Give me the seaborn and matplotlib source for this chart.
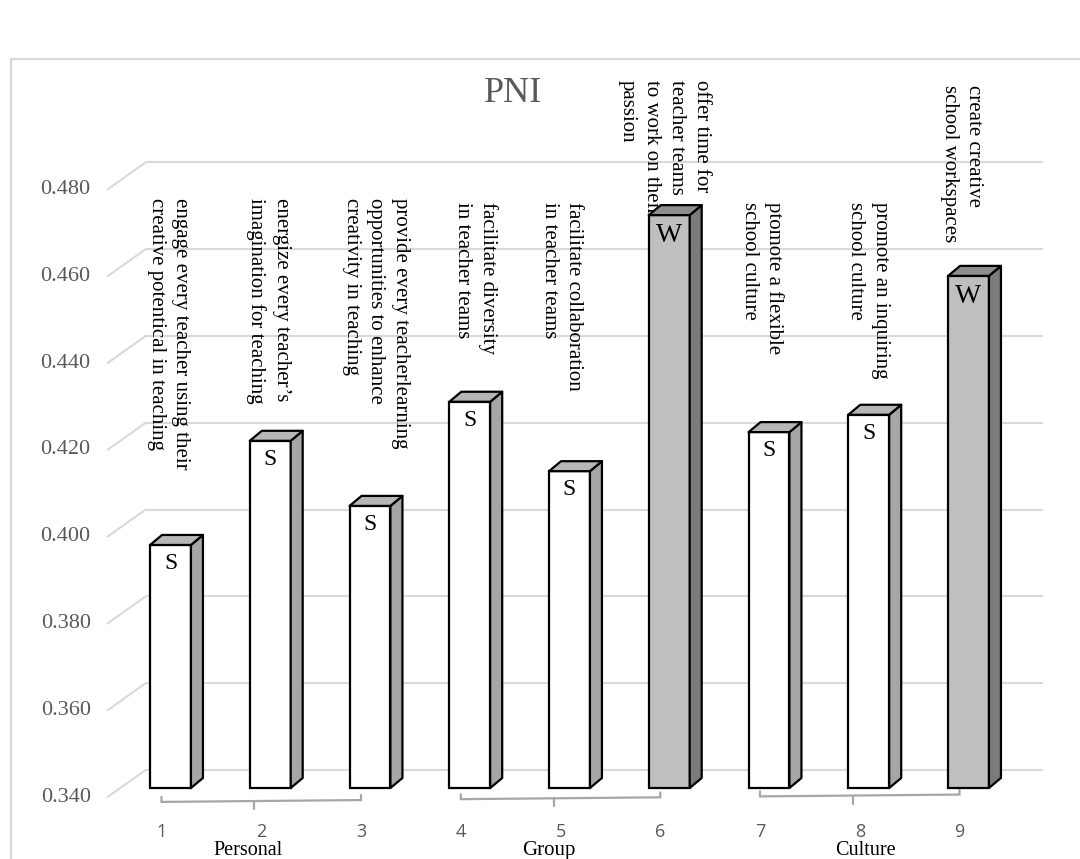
import matplotlib
matplotlib.use("Agg")
import matplotlib.pyplot as plt
from matplotlib.patches import Polygon
import pandas as pd
import seaborn as sns

# ---------------------------------------------------------------- data
items = ["1", "2", "3", "4", "5", "6", "7", "8", "9"]
pni = [0.396, 0.420, 0.405, 0.429, 0.413, 0.472, 0.422, 0.426, 0.458]
levels = ["S", "S", "S", "S", "S", "W", "S", "S", "W"]
descriptions = [
    "engage every teacher using their\ncreative potentical in teaching",
    "energize every teacher\u2019s\nimagination for teaching",
    "provide every teacherlearning\nopportunities to enhance\ncreativity in teaching",
    "facilitate diversity\nin teacher teams",
    "facilitate collaboration\nin teacher teams",
    "offer time for\nteacher teams\nto work on their\npassion",
    "ptomote a flexible\nschool culture",
    "promote an inquiring\nschool culture",
    "create creative\nschool workspaces",
]
groups = ["Personal", "Group", "Culture"]
group_members = [[0, 1, 2], [3, 4, 5], [6, 7, 8]]
y_ticks = [0.340, 0.360, 0.380, 0.400, 0.420, 0.440, 0.460, 0.480]
y_tick_labels = ["0.340", "0.360", "0.380", "0.400", "0.420", "0.440", "0.460", "0.480"]
title = "PNI"

# ---------------------------------------------------------------- layout
W_PX, H_PX = 1080, 859
CAT0_PX = 170.5          # first category centre on the bar front plane
PX_PER_CAT = 99.75
FLOOR_PX = 788.0         # floor value on the bar front plane (from top)
PX_PER_UNIT = 4340.0
FLOOR = y_ticks[0]

BACK = (25, -18)         # bar plane -> back wall (px, +down)
FRONT = (-13, 9)         # bar plane -> front edge of the floor
BAR_DEPTH = (12, -10)    # depth of a column

# description columns: (x nudge px, top px)
desc_nudge = [-2, -2, 6, 6, -8, -5, -7, -1, -7]
desc_top = [198, 198, 198, 202, 202, 80, 202, 202, 85]
# group label nudges relative to middle category (px, baseline px)
group_label_pos = [(-22, 855), (-21, 855), (-3, 855)]
group_label_size = [14.5, 15, 14.5]

FACE = {"S": "#ffffff", "W": "#bfbfbf"}
SIDE = {"S": "#a6a6a6", "W": "#7b7b7b"}
TOP = {"S": "#b6b6b6", "W": "#8e8e8e"}
GRID = "#d9d9d9"
TICK = "#595959"


def ddx(px):
    return px / PX_PER_CAT


def ddy(px_down):
    return -px_down / PX_PER_UNIT


def x_of_px(px):
    return (px - CAT0_PX) / PX_PER_CAT


def v_of_py(py):
    return FLOOR + (FLOOR_PX - py) / PX_PER_UNIT


sns.set_style("white")
plt.rcParams["font.family"] = ["Liberation Serif", "DejaVu Sans"]

fig = plt.figure(figsize=(W_PX / 100, H_PX / 100), dpi=100)
ax = fig.add_axes([0, 0, 1, 1])

df = pd.DataFrame({"item": items, "pni": pni, "level": levels})
sns.barplot(data=df, x="item", y="pni", hue="level", palette=FACE,
            order=items, hue_order=["S", "W"], dodge=False, width=0.41,
            edgecolor="black", linewidth=1.6, errorbar=None, legend=False,
            ax=ax, zorder=3)

ax.set_xlim(x_of_px(0), x_of_px(W_PX))
ax.set_ylim(v_of_py(H_PX), v_of_py(0))
ax.axis("off")

# columns: lift to the floor and add the side / top faces
bdx, bdy = ddx(BAR_DEPTH[0]), ddy(BAR_DEPTH[1])
for p in list(ax.patches):
    h = p.get_height()
    if h != h or h == 0:
        continue
    i = int(round(p.get_x() + p.get_width() / 2))
    lev = levels[i]
    p.set_y(FLOOR)
    p.set_height(h - FLOOR)
    x0, x1 = p.get_x(), p.get_x() + p.get_width()
    side = Polygon([(x1, FLOOR), (x1, h), (x1 + bdx, h + bdy), (x1 + bdx, FLOOR + bdy)],
                   closed=True, facecolor=SIDE[lev], edgecolor="black",
                   linewidth=1.6, zorder=3, joinstyle="round")
    top = Polygon([(x0, h), (x1, h), (x1 + bdx, h + bdy), (x0 + bdx, h + bdy)],
                  closed=True, facecolor=TOP[lev], edgecolor="black",
                  linewidth=1.6, zorder=3, joinstyle="round")
    ax.add_patch(side)
    ax.add_patch(top)
    ax.text(i, h + ddy(8), lev, ha="center", va="top",
            fontsize=17 if lev == "S" else 20, color="black", zorder=4)

# back wall and side wall gridlines, y tick labels
left_edge, right_edge = -0.5, len(items) - 0.5
for v, lab in zip(y_ticks, y_tick_labels):
    vb = v + ddy(BACK[1])
    vf = v + ddy(FRONT[1])
    ax.plot([left_edge + ddx(BACK[0]), right_edge + ddx(BACK[0])], [vb, vb],
            color=GRID, lw=1.5, zorder=0.5, solid_capstyle="butt")
    ax.plot([left_edge + ddx(FRONT[0]), left_edge + ddx(BACK[0])], [vf, vb],
            color=GRID, lw=1.5, zorder=0.5)
    ax.text(left_edge + ddx(FRONT[0] - 17), vf, lab, ha="right", va="center",
            fontsize=16, color=TICK)

# category numbers
for i, it in enumerate(items):
    ax.text(i + ddx(-9), FLOOR + ddy(44), it, ha="center", va="center",
            fontsize=13, color=TICK, family=["Open Sans", "DejaVu Sans"])


def bracket_v(x):
    px = CAT0_PX + PX_PER_CAT * x
    py = 801 - 0.0092 * (px - 260)
    return v_of_py(py)


# group brackets and names
for g, members, (nx, nb), fs in zip(groups, group_members, group_label_pos, group_label_size):
    a, c = members[0], members[-1]
    mid = members[len(members) // 2]
    xl, xr = a + ddx(-9), c + ddx(-9)
    xm = mid + ddx(-16)
    yl, yr, ym = bracket_v(xl), bracket_v(xr), bracket_v(xm)
    ax.plot([xl, xl, xr, xr], [yl + ddy(-5), yl, yr, yr + ddy(-5)],
            color="#a6a6a6", lw=1.6, zorder=1, solid_joinstyle="miter")
    ax.plot([xm, xm], [ym, ym + ddy(8)], color="#a6a6a6", lw=1.6, zorder=1)
    ax.text(mid + ddx(nx), v_of_py(nb), g, ha="center", va="baseline",
            fontsize=fs, color="black")

# vertical item descriptions
for i, (txt, nx, top) in enumerate(zip(descriptions, desc_nudge, desc_top)):
    ax.text(i + ddx(nx), v_of_py(top), txt, rotation=270, ha="center", va="top",
            multialignment="left", fontsize=15, linespacing=1.4,
            color="black", zorder=2)

# chart title
fig.text(513 / W_PX, 1 - 94 / H_PX, title, ha="center", va="center",
         fontsize=26, color=TICK)

# chart area border
fx, fy = 10.5 / W_PX, 1 - 59 / H_PX
ax.plot([fx, fx, 1.01], [-0.01, fy, fy], transform=ax.transAxes,
        color=GRID, lw=1.6, clip_on=False, zorder=0.4)

fig.savefig("out.png", dpi=100)
